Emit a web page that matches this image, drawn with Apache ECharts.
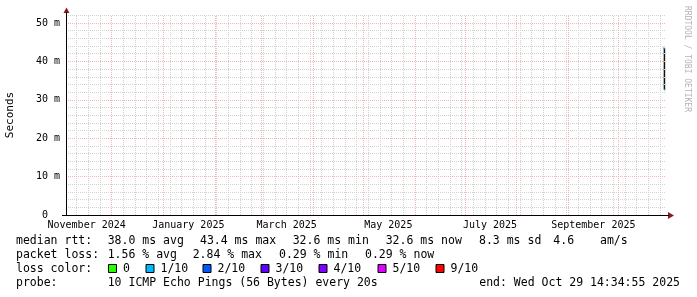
<!DOCTYPE html>
<html><head><meta charset="utf-8">
<script src="https://cdn.jsdelivr.net/npm/echarts@6/dist/echarts.min.js"></script>
<style>html,body{margin:0;padding:0;background:#fff}#c{width:697px;height:297px}</style>
</head><body><div id="c"></div>
<script>
// ---- data ----
const endTime = '2025-10-29 14:34:55';
const spanDays = 360;
const majorGridMonths = ['2024-12-01','2025-01-01','2025-02-01','2025-03-01','2025-04-01','2025-05-01','2025-06-01','2025-07-01','2025-08-01','2025-09-01','2025-10-01'];
const labelMonths = ['2024-11-01','2025-01-01','2025-03-01','2025-05-01','2025-07-01','2025-09-01'];
const labelTexts = ['November 2024','January 2025','March 2025','May 2025','July 2025','September 2025'];
const yTicks = [0,10,20,30,40,50];
const yTickLabels = ['0  ','10 m','20 m','30 m','40 m','50 m'];
// median rtt (ms) segments, colored by loss
const medianTimes = ['2025-10-27 22:00','2025-10-28 16:00','2025-10-29 04:00'];
const medianValues = [43.4, 32.6];
const lossColors = ['#26ff00','#00b8ff','#0059ff','#5e00ff','#7e00ff','#dd00ff','#ff0000'];
const lossLabels = ['0','1/10','2/10','3/10','4/10','5/10','9/10'];

const t = s => Date.parse(s.replace(' ','T') + 'Z');
const DAY = 86400000;
const endTs = t(endTime);
const startTs = endTs - spanDays*DAY;
const labelTs = labelMonths.map(m => t(m+' 00:00:00') + 15*DAY);
const labelMap = {}; labelTs.forEach((v,i)=>labelMap[v]=labelTexts[i]);

// weekly (Sunday) minor grid
const weekLines = [];
let d = t('2024-11-03 00:00:00');
while (d <= endTs) { if (d >= startTs) weekLines.push(d); d += 7*DAY; }
const minorY = []; for (let v = 2; v <= 52; v += 2) if (v % 10) minorY.push(v);

const grayLine = {color:'#d2d2d2', type:[1,1], width:1};
const redLine = {color:'#f2b4b4', type:[1,1], width:1};
const gridMarks = [];
weekLines.forEach(x => gridMarks.push({xAxis:x, lineStyle:grayLine}));
minorY.forEach(y => gridMarks.push({yAxis:y, lineStyle:grayLine}));
majorGridMonths.forEach(m => gridMarks.push({xAxis:t(m+' 00:00:00'), lineStyle:redLine}));
yTicks.slice(1).forEach(y => gridMarks.push({yAxis:y, lineStyle:redLine}));

const mono = '"DejaVu Sans Mono", monospace';
const chart = echarts.init(document.getElementById('c'), null, {renderer:'canvas'});

const legendRows = [
  {y:241, items:[[16,'median rtt:'],[107.7,'38.0 ms avg'],[200,'43.4 ms max'],[292.7,'32.6 ms min'],[385.7,'32.6 ms now'],[479,'8.3 ms sd'],[553.3,'4.6'],[600,'am/s']]},
  {y:255, items:[[16,'packet loss:'],[107.7,'1.56 % avg'],[192.7,'2.84 % max'],[279,'0.29 % min'],[365,'0.29 % now']]},
  {y:268.7, items:[[16,'loss color:']]},
  {y:282.7, items:[[16,'probe:'],[107.7,'10 ICMP Echo Pings (56 Bytes) every 20s']]}
];
const graphics = [];
legendRows.forEach(r => r.items.forEach(([x,s]) => graphics.push({type:'text', x:x, y:r.y, style:{text:s, font:'11.5px '+mono, fill:'#000', textVerticalAlign:'middle'}, silent:true})));
graphics.push({type:'text', x:680, y:282.7, style:{text:'end: Wed Oct 29 14:34:55 2025', font:'11.5px '+mono, fill:'#000', textAlign:'right', textVerticalAlign:'middle'}, silent:true});
const swatchX = [108.5,146,203,261,319,378,436];
lossColors.forEach((c,i) => {
  graphics.push({type:'rect', shape:{x:swatchX[i], y:264.5, width:8, height:8}, style:{fill:c, stroke:'#000', lineWidth:1}, silent:true});
  graphics.push({type:'text', x:swatchX[i]+14.5, y:268.7, style:{text:lossLabels[i], font:'11.5px '+mono, fill:'#000', textVerticalAlign:'middle'}, silent:true});
});
graphics.push({type:'text', x:687.5, y:59, rotation:-Math.PI/2, style:{text:'RRDTOOL / TOBI OETIKER', font:'8px '+mono, fill:'#b4b4b4', textAlign:'center', textVerticalAlign:'middle'}, silent:true});
// axis arrows and small extensions
graphics.push({type:'polygon', shape:{points:[[63.5,13],[66.5,7.5],[69.5,13]]}, style:{fill:'#8b1a1a'}, silent:true, z:100});
graphics.push({type:'polygon', shape:{points:[[668,212],[674,215.5],[668,219]]}, style:{fill:'#8b1a1a'}, silent:true, z:100});
graphics.push({type:'line', shape:{x1:66.5,y1:15,x2:66.5,y2:12}, style:{stroke:'#000', lineWidth:1}, silent:true, z:100});
graphics.push({type:'line', shape:{x1:62,y1:215.5,x2:66,y2:215.5}, style:{stroke:'#000', lineWidth:1}, silent:true, z:100});
graphics.push({type:'line', shape:{x1:666,y1:215.5,x2:669,y2:215.5}, style:{stroke:'#000', lineWidth:1}, silent:true, z:100});

const mt = medianTimes.map(t);
chart.setOption({
  animation:false,
  backgroundColor:'#fff',
  grid:{left:66, top:15, width:600, height:200, outerBoundsMode:'none'},
  xAxis:{type:'value', min:startTs, max:endTs, z:50,
    axisLine:{show:true, lineStyle:{color:'#000', width:1}},
    axisTick:{show:false}, splitLine:{show:false},
    axisLabel:{customValues:labelTs, formatter:v => labelMap[v] || '', fontFamily:mono, fontSize:10, color:'#000', margin:5, showMinLabel:true, showMaxLabel:true}},
  yAxis:{type:'value', min:0, max:52.08, interval:10, z:50,
    name:'Seconds', nameLocation:'middle', nameRotate:90, nameGap:50,
    nameTextStyle:{fontFamily:mono, fontSize:11, color:'#000'},
    axisLine:{show:true, lineStyle:{color:'#000', width:1}},
    axisTick:{show:false}, splitLine:{show:false}, showMaxLabel:false,
    axisLabel:{formatter:v => { const i = yTicks.indexOf(v); return i>=0 ? yTickLabels[i] : ''; }, fontFamily:mono, fontSize:10, color:'#000', margin:6}},
  series:[
    {type:'line', data:[], silent:true, z:1, markLine:{silent:true, symbol:'none', label:{show:false}, animation:false, data:gridMarks}},
    {type:'line', name:'median top', data:[[mt[0],medianValues[0]],[mt[1],medianValues[0]]], showSymbol:false, lineStyle:{color:'#00b8ff', width:2}, silent:true, z:5},
    {type:'line', name:'median step', data:[[mt[1],medianValues[0]],[mt[1],medianValues[1]]], showSymbol:false, lineStyle:{color:'#111', width:1.5}, silent:true, z:4},
    {type:'line', name:'median bottom', data:[[mt[1],medianValues[1]],[mt[2],medianValues[1]]], showSymbol:false, lineStyle:{color:'#00b8ff', width:2}, silent:true, z:5}
  ],
  graphic:graphics
});
</script></body></html>
